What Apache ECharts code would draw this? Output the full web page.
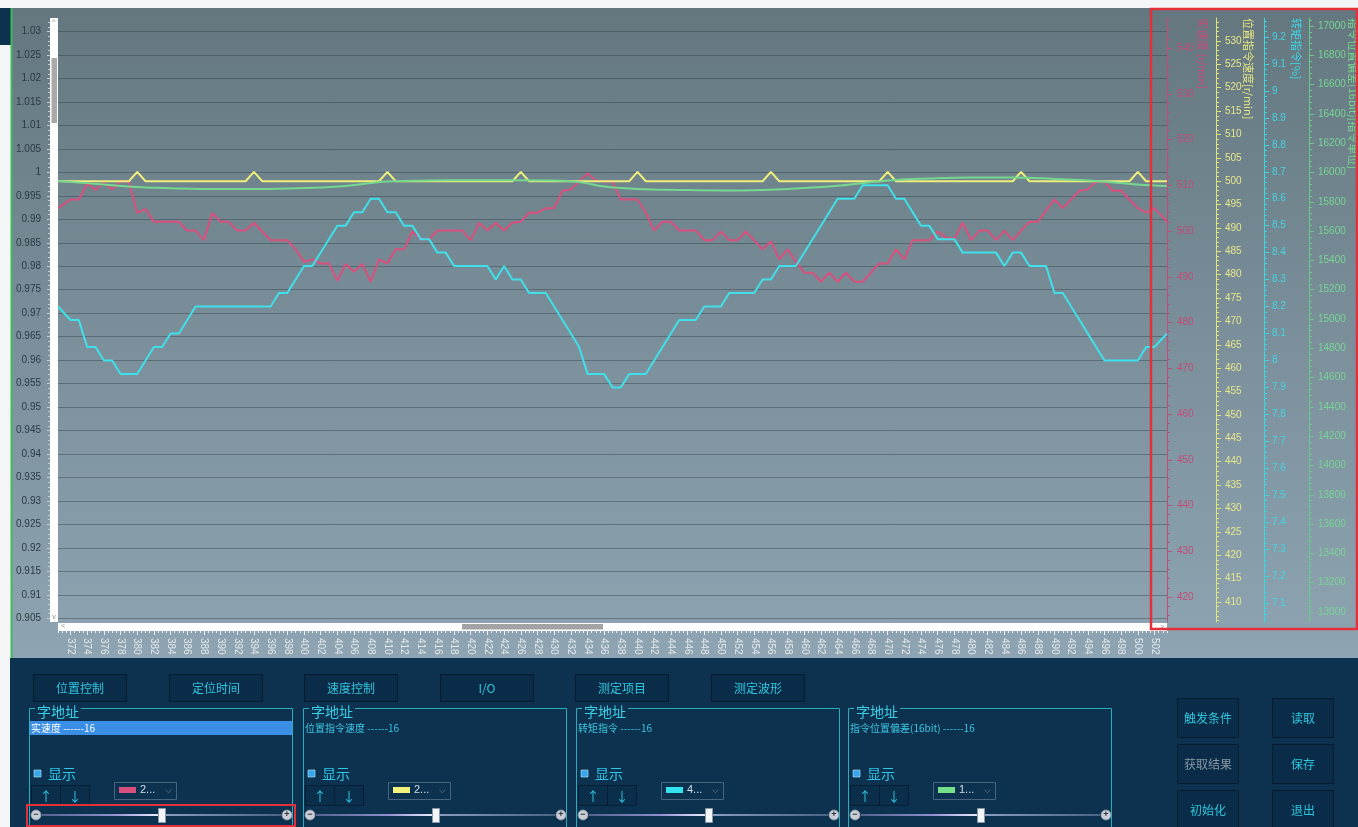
<!DOCTYPE html>
<html>
<head>
<meta charset="utf-8">
<script src="https://cdn.jsdelivr.net/npm/echarts@6/dist/echarts.min.js"></script>
<style>
  html, body { margin: 0; padding: 0; background: #f4f5f6; }
  #c { width: 1358px; height: 827px; }
</style>
</head>
<body>
<div id="c"></div>
<script>
// ---- sampled waveforms: [sample index, value] ----
const realSpeed = [[370.5,505.0],[372,506.9],[373,506.9],[374,510.4],[375,509.0],[376,510.6],[377,509.1],[378,510.8],[379,510.8],[380,504.0],[381,504.8],[382,502.0],[385,502.0],[386,500.1],[387,500.1],[388,498.0],[389,503.9],[390,502.0],[391,502.0],[392,500.1],[393,500.1],[394,501.8],[395,499.9],[396,498.0],[398,498.0],[399,496.0],[400,493.3],[401,493.8],[402,492.9],[403,492.9],[404,489.1],[405,492.8],[406,491.1],[407,492.8],[408,488.9],[409,493.8],[410,492.9],[411,496.0],[412,496.0],[413,499.9],[414,498.2],[415,498.2],[416,500.1],[419,500.1],[420,498.0],[421,501.8],[422,500.1],[423,501.8],[424,500.1],[425,501.8],[426,502.0],[427,504.0],[428,504.0],[429,505.0],[430,505.0],[431,508.8],[432,509.1],[433,510.8],[434,512.6],[435,511.0],[436,510.8],[437,510.8],[438,506.9],[440,506.9],[441,504.0],[442,500.1],[443,502.0],[444,502.0],[445,500.1],[447,500.1],[448,498.0],[449,498.0],[450,499.9],[451,498.0],[452,498.0],[453,499.9],[455,496.0],[456,497.7],[457,493.8],[458,496.0],[459,493.3],[460,490.9],[461,490.9],[462,488.9],[463,490.9],[464,488.9],[465,490.9],[466,488.9],[467,488.9],[469,492.9],[470,492.9],[471,496.0],[472,493.8],[473,498.0],[475,498.0],[476,499.9],[477,498.6],[478,498.3],[479,501.8],[480,498.0],[481,500.1],[482,500.1],[483,498.0],[484,500.1],[485,498.0],[486,500.1],[487,502.0],[488,502.0],[490,506.9],[491,505.0],[493,508.8],[494,509.1],[495,510.8],[496,510.8],[497,508.8],[498,508.8],[499,506.9],[500,505.0],[501,504.0],[502,505.0],[503.5,502.0]];

const cmdSpeed = [[370.5,500],[379,500],[380,502],[381,500],[393,500],[394,502],[395,500],[409,500],[410,502],[411,500],[425,500],[426,502],[427,500],[439,500],[440,502],[441,500],[455,500],[456,502],[457,500],[469,500],[470,502],[471,500],[485,500],[486,502],[487,500],[499,500],[500,502],[501,500],[503.5,500]];

const torqueCmd = [[370.5,8.20],[372,8.15],[373,8.15],[374,8.05],[375,8.05],[376,8.00],[377,8.00],[378,7.95],[380,7.95],[382,8.05],[383,8.05],[384,8.10],[385,8.10],[387,8.20],[396,8.20],[397,8.25],[398,8.25],[400,8.35],[401,8.35],[404,8.50],[405,8.50],[406,8.55],[407,8.55],[408,8.60],[409,8.60],[410,8.55],[411,8.55],[412,8.50],[413,8.50],[414,8.45],[415,8.45],[416,8.40],[417,8.40],[418,8.35],[422,8.35],[423,8.30],[424,8.35],[425,8.30],[426,8.30],[427,8.25],[429,8.25],[433,8.05],[434,7.95],[436,7.95],[437,7.90],[438,7.90],[439,7.95],[441,7.95],[445,8.15],[447,8.15],[448,8.20],[450,8.20],[451,8.25],[454,8.25],[455,8.30],[456,8.30],[457,8.35],[459,8.35],[464,8.60],[466,8.60],[467,8.65],[470,8.65],[471,8.60],[472,8.60],[474,8.50],[475,8.50],[476,8.45],[478,8.45],[479,8.40],[483,8.40],[484,8.35],[485,8.40],[486,8.40],[487,8.35],[489,8.35],[490,8.25],[491,8.25],[496,8.00],[500,8.00],[501,8.05],[502,8.05],[503.5,8.10]];

const posError = [[370.5,15942],[376,15918],[380,15901],[385,15891],[390,15887],[395,15887],[400,15894],[405,15908],[410,15939],[415,15945],[420,15947],[425,15947],[430,15945],[433,15935],[436,15904],[440,15888],[445,15881],[450,15877],[455,15881],[460,15894],[465,15915],[470,15945],[475,15959],[480,15966],[485,15966],[490,15956],[495,15942],[500,15918],[503.5,15908]];

// ---- axis tick labels and extents ----
const xTicks = [372,374,376,378,380,382,384,386,388,390,392,394,396,398,400,402,404,406,408,410,412,414,416,418,420,422,424,426,428,430,432,434,436,438,440,442,444,446,448,450,452,454,456,458,460,462,464,466,468,470,472,474,476,478,480,482,484,486,488,490,492,494,496,498,500,502];
const leftTicks = [0.905,0.91,0.915,0.92,0.925,0.93,0.935,0.94,0.945,0.95,0.955,0.96,0.965,0.97,0.975,0.98,0.985,0.99,0.995,1,1.005,1.01,1.015,1.02,1.025,1.03];
const redTicks = [420,430,440,450,460,470,480,490,500,510,520,530,540];
const yellowTicks = [410,415,420,425,430,435,440,445,450,455,460,465,470,475,480,485,490,495,500,505,510,515,520,525,530];
const cyanTicks = [7.1,7.2,7.3,7.4,7.5,7.6,7.7,7.8,7.9,8,8.1,8.2,8.3,8.4,8.5,8.6,8.7,8.8,8.9,9,9.1,9.2];
const greenTicks = [13000,13200,13400,13600,13800,14000,14200,14400,14600,14800,15000,15200,15400,15600,15800,16000,16200,16400,16600,16800,17000];

const xRange = [370.5, 503.5];
const leftRange = [0.9042, 1.0329];
const redRange = [414.54, 546.56];
const yellowRange = [405.72, 534.92];
const cyanRange = [7.0295, 9.2705];
const greenRange = [12931.7, 17054.6];

// ---- panel texts ----
const tabLabels = ['位置控制', '定位时间', '速度控制', 'I/O', '测定项目', '测定波形'];
const channelNames = ['实速度 ------16', '位置指令速度 ------16', '转矩指令 ------16', '指令位置偏差(16bit) ------16'];
const channelCodes = ['2...', '2...', '4...', '1...'];
const sideButtons = ['触发条件', '读取', '获取结果', '保存', '初始化', '退出'];

const C_RED = '#d9507e', C_YEL = '#eeee7c', C_CYA = '#3fe0ea', C_GRN = '#76d88e';
const NUM = '"Liberation Sans", Arial, sans-serif';
const CJK = '"Noto Sans CJK SC", sans-serif';

function steps(lo, hi, step) {
  const out = [];
  const start = Math.ceil(lo / step - 1e-9);
  for (let k = start; k * step <= hi + 1e-9; k++) out.push(Math.round(k * step * 1e6) / 1e6);
  return out;
}

function axisPair(range, major, minorStep, pos, offset, color, labelColor, margin, fmt, showLine) {
  return [
    {
      type: 'value', gridIndex: 0, position: pos, offset: offset,
      min: range[0], max: range[1],
      axisLine: { show: showLine, onZero: false, lineStyle: { color: color, width: 1 } },
      axisTick: { show: true, length: 5, customValues: major, lineStyle: { color: color, width: 1 } },
      axisLabel: { show: true, customValues: major, color: labelColor, margin: margin,
                   fontSize: 10, fontFamily: NUM, formatter: fmt },
      splitLine: { show: false }
    },
    {
      type: 'value', gridIndex: 0, position: pos, offset: offset,
      min: range[0], max: range[1],
      axisLine: { show: false },
      axisTick: { show: true, length: 3, customValues: steps(range[0], range[1], minorStep),
                  lineStyle: { color: color, width: 1 } },
      axisLabel: { show: false },
      splitLine: { show: false }
    }
  ];
}

const leftAxes = axisPair(leftRange, leftTicks, 0.001, 'left', 8, '#c4ced4', '#2b3a44', 9,
  v => String(+(+v).toFixed(3)), false);
leftAxes[0].splitLine = { show: true, lineStyle: { color: 'rgba(45,60,70,0.42)', width: 1 } };
leftAxes[0].axisTick.length = 3;
leftAxes[1].axisTick.length = 2;

const yAxes = [].concat(
  leftAxes,
  axisPair(redRange, redTicks, 2, 'right', 0, '#c24c78', '#c24c78', 10, v => String(v), true),
  axisPair(yellowRange, yellowTicks, 1, 'right', 49, '#e2e27a', '#e6e68c', 9, v => String(v), true),
  axisPair(cyanRange, cyanTicks, 0.02, 'right', 97, '#3cd4e0', '#44d4e2', 8, v => String(+(+v).toFixed(2)), true),
  axisPair(greenRange, greenTicks, 40, 'right', 142, '#6cc888', '#78d494', 9, v => String(v), true)
);

const xAxes = [
  {
    type: 'value', gridIndex: 0, position: 'bottom', offset: 9,
    min: xRange[0], max: xRange[1],
    axisLine: { show: false },
    axisTick: { show: true, length: 4, customValues: xTicks, lineStyle: { color: '#e8eef2' } },
    axisLabel: { show: true, customValues: xTicks, rotate: -90, color: '#e2e8ec', margin: 7,
                 fontSize: 10, fontFamily: NUM, formatter: v => String(v) },
    splitLine: { show: false }
  },
  {
    type: 'value', gridIndex: 0, position: 'bottom', offset: 9,
    min: xRange[0], max: xRange[1],
    axisLine: { show: false },
    axisTick: { show: true, length: 2, customValues: steps(xRange[0], xRange[1], 0.5),
                lineStyle: { color: '#e8eef2' } },
    axisLabel: { show: false },
    splitLine: { show: false }
  }
];

function lineSeries(name, data, yIdx, color, z, smooth) {
  return {
    type: 'line', name: name, data: data, xAxisIndex: 0, yAxisIndex: yIdx,
    symbol: 'none', smooth: smooth || false, z: z,
    lineStyle: { color: color, width: 2 }, animation: false
  };
}

// ---- surrounding window furniture ----
const G = [];
function rect(x, y, w, h, style, z) {
  G.push({ type: 'rect', shape: { x: x, y: y, width: w, height: h }, style: style, z: z, silent: true });
}
function txt(x, y, s, font, fill, align, extra) {
  G.push(Object.assign({ type: 'text', x: x, y: y, z: 40, silent: true,
    style: { text: s, font: font, fill: fill, textAlign: align || 'left', textVerticalAlign: 'middle' } }, extra || {}));
}
function poly(points, stroke, w, z) {
  G.push({ type: 'polyline', shape: { points: points }, style: { stroke: stroke, lineWidth: w, fill: null }, z: z, silent: true });
}
function circ(cx, cy, r, style, z) {
  G.push({ type: 'circle', shape: { cx: cx, cy: cy, r: r }, style: style, z: z, silent: true });
}

// scope background
rect(12, 8, 1346, 650, {
  fill: new echarts.graphic.LinearGradient(0, 0, 0, 1, [
    { offset: 0, color: '#64777f' }, { offset: 0.5, color: '#7a8f9a' }, { offset: 1, color: '#8ea4b2' }
  ])
}, -10);
rect(0, 8, 11, 37, { fill: '#0d3250' }, -9);
rect(10.5, 8, 2, 650, { fill: '#3dbb5a' }, -9);
// control panel
rect(10, 658, 1348, 169, { fill: '#0c3250' }, -9);

// scroll bars
rect(50, 18, 8, 604, { fill: '#ffffff' }, 50);
rect(51.5, 58, 5.5, 65, { fill: '#a9a9a9' }, 51);
txt(54, 22, '^', '7px ' + NUM, '#8a8a8a', 'center', { z: 52 });
txt(54, 617, 'v', '7px ' + NUM, '#8a8a8a', 'center', { z: 52 });
rect(58, 623, 1109, 8, { fill: '#ffffff' }, 50);
rect(462, 624, 141, 5.5, { fill: '#a3a3a3' }, 51);
txt(63, 626.5, '<', '7px ' + NUM, '#8a8a8a', 'center', { z: 52 });
txt(1162, 627, '>', '7px ' + NUM, '#8a8a8a', 'center', { z: 52 });

// vertical axis titles
const axisTitles = [
  ['实速度 [r/min]', 1202.5, '#cc4a7a'],
  ['位置指令速度[r/min]', 1248.5, '#e6e680'],
  ['转矩指令[%]', 1296, '#3cd8e6'],
  ['指令位置偏差(16bit)[指令单位]', 1353, '#78d690']
];
axisTitles.forEach(t => txt(t[1], 18, t[0], '11px ' + CJK, t[2], 'left', { rotation: -Math.PI / 2 }));

// tab buttons
tabLabels.forEach((s, i) => {
  const bx = Math.round(33 + i * 135.6);
  rect(bx + 0.5, 674.5, 93, 27, { fill: '#0a2c48', stroke: '#061b2e', lineWidth: 1 }, 5);
  txt(bx + 47, 688, s, '12px ' + CJK, '#2fc6de', 'center');
});

// channel group boxes
const boxX = [29, 303, 576, 848];
const boxW = 263;
const swatch = [C_RED, '#f4f47c', '#33e4f0', '#74e08a'];
boxX.forEach((x, i) => {
  poly([[x + 6, 708.5], [x + 0.5, 708.5], [x + 0.5, 840]], '#2aaebe', 1, 5);
  poly([[x + 52, 708.5], [x + boxW + 0.5, 708.5], [x + boxW + 0.5, 840]], '#2aaebe', 1, 5);
  txt(x + 8, 712, '字地址', '14px ' + CJK, '#3ad0e8');
  if (i === 0) {
    rect(x + 1, 721, boxW - 1, 14, { fill: '#3b8ee6' }, 6);
    txt(x + 2, 728, channelNames[i], '10px ' + CJK, '#ffffff');
  } else {
    txt(x + 2, 728, channelNames[i], '10px ' + CJK, '#3cc6e0');
  }
  // show checkbox
  rect(x + 5, 770, 7, 7, { fill: '#35a6ea', stroke: '#bfe6ff', lineWidth: 0.6 }, 6);
  txt(x + 19, 774, '显示', '14px ' + CJK, '#30c8e8');
  // up / down
  rect(x + 2.5, 785.5, 58, 20, { fill: '#0b2e4b', stroke: '#071f34', lineWidth: 1 }, 6);
  poly([[x + 31.5, 786], [x + 31.5, 805]], '#071f34', 1, 7);
  txt(x + 17, 796, '↑', '13px ' + CJK, '#30c8e8', 'center');
  txt(x + 46, 796, '↓', '13px ' + CJK, '#30c8e8', 'center');
  // colour selector
  rect(x + 85.5, 782.5, 62, 17, { fill: '#0c3250', stroke: '#48647e', lineWidth: 1 }, 6);
  rect(x + 90, 787, 17, 6, { fill: swatch[i] }, 7);
  txt(x + 111, 790, channelCodes[i], '11px ' + NUM, '#d0dce4');
  txt(x + 139, 790, '⌵', '9px ' + CJK, '#7d92a6', 'center');
  // gain slider
  rect(x + 13, 814, 239, 2, {
    fill: new echarts.graphic.LinearGradient(0, 0, 1, 0, [
      { offset: 0, color: '#55648e' }, { offset: 0.3, color: '#9090d0' },
      { offset: 0.48, color: '#e8e8ff' }, { offset: 0.52, color: '#8a9cc0' },
      { offset: 1, color: '#4c6484' }
    ])
  }, 6);
  circ(x + 7, 815, 5, { fill: '#c9ced6', stroke: '#8d97a4', lineWidth: 0.8 }, 7);
  txt(x + 7, 815, '−', 'bold 9px ' + NUM, '#2a3440', 'center', { z: 41 });
  circ(x + 258, 815, 5, { fill: '#c9ced6', stroke: '#8d97a4', lineWidth: 0.8 }, 7);
  txt(x + 258, 815, '+', 'bold 9px ' + NUM, '#2a3440', 'center', { z: 41 });
  rect(x + 129.5, 808.5, 7, 14, { fill: '#f2f4f6', stroke: '#8a98a8', lineWidth: 1 }, 8);
});

// action buttons
sideButtons.forEach((s, i) => {
  const bx = i % 2 === 0 ? 1177 : 1272;
  const by = 698 + Math.floor(i / 2) * 46;
  rect(bx + 0.5, by + 0.5, 61, 39, { fill: '#0a2c48', stroke: '#061b2e', lineWidth: 1 }, 5);
  txt(bx + 31, by + 20, s, '12px ' + CJK, s === '获取结果' ? '#8797a6' : '#2fc6de', 'center');
});

// highlight frames
rect(1151, 9, 206, 620, { fill: null, stroke: '#e4303a', lineWidth: 2.5 }, 100);
rect(27, 805, 268, 21, { fill: null, stroke: '#e4303a', lineWidth: 2 }, 100);

const chart = echarts.init(document.getElementById('c'), null, { renderer: 'canvas', width: 1358, height: 827 });
chart.setOption({
  animation: false,
  backgroundColor: 'transparent',
  grid: [{ left: 58, right: 191, top: 18, bottom: 205, containLabel: false }],
  xAxis: xAxes,
  yAxis: yAxes,
  series: [
    lineSeries('实速度', realSpeed, 2, C_RED, 3),
    lineSeries('转矩指令', torqueCmd, 6, C_CYA, 4),
    lineSeries('位置指令速度', cmdSpeed, 4, C_YEL, 5),
    lineSeries('指令位置偏差', posError, 8, C_GRN, 6, 0.4)
  ],
  graphic: { elements: G }
});
</script>
</body>
</html>
